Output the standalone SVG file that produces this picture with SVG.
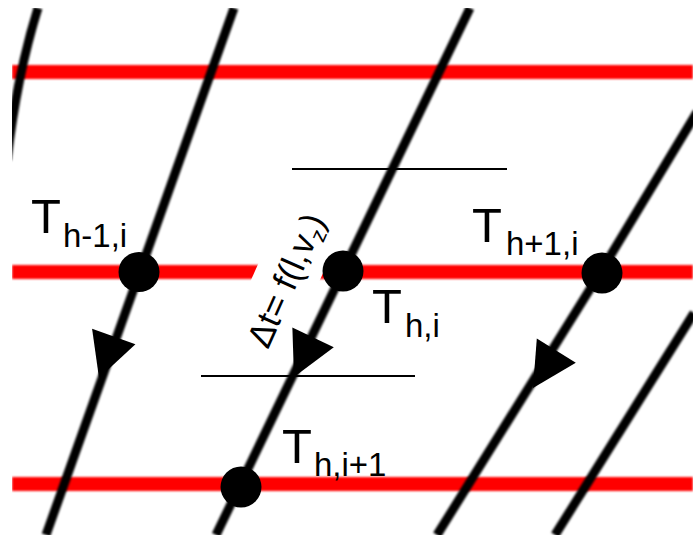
<svg xmlns="http://www.w3.org/2000/svg" width="693" height="535" viewBox="0 0 693 535">
  <style>
    .red { stroke: #ff0000; stroke-width: 14; fill: none; }
    .blk { stroke: #000; stroke-width: 9; fill: none; stroke-linecap: butt; }
    .thin { stroke: #000; stroke-width: 1.8; }
    .dot { fill: #000; }
    .lbl { font-family: "Liberation Sans", Arial, sans-serif; fill: #000; }
    .big { font-size: 49px; }
    .sub { font-size: 33px; }
  </style>
  <defs>
    <clipPath id="frame"><rect x="12" y="8" width="681" height="527"/></clipPath>
    <filter id="soft" x="-10%" y="-10%" width="120%" height="120%"><feGaussianBlur stdDeviation="1.3"/></filter>
    <filter id="soft2" x="-10%" y="-10%" width="120%" height="120%"><feGaussianBlur stdDeviation="1"/></filter>
    <path id="ah" d="M0,0 L-44,-23 L-44,23 Z" fill="#000"/>
  </defs>
  <rect width="693" height="535" fill="#fff"/>

  <g id="gridlines" clip-path="url(#frame)" filter="url(#soft)">
    <line class="red" x1="12" y1="72" x2="693" y2="72"/>
    <line class="red" x1="12" y1="272" x2="693" y2="272"/>
    <line class="red" x1="12" y1="484" x2="693" y2="484"/>
  </g>

  <g id="dt-label">
    <g transform="translate(268,350) rotate(-66)">
      <rect x="-8" y="-44" width="160" height="63" fill="#fff"/>
      <text class="lbl" x="0" y="0" font-size="35">Δt= f(l,v<tspan font-size="22" dy="7">z</tspan><tspan dy="-7">)</tspan></text>
    </g>
  </g>

  <g id="connectors">
    <g clip-path="url(#frame)" filter="url(#soft2)">
      <path class="blk" d="M38,8 Q17,75 7,160"/>
      <line class="blk" x1="234" y1="8" x2="46" y2="535"/>
      <line class="blk" x1="470" y1="8" x2="216" y2="535"/>
      <path class="blk" d="M697,112 L600,273 L437,535"/>
      <line class="blk" x1="694" y1="313" x2="555" y2="535"/>
    </g>
    <line class="thin" x1="292" y1="169" x2="507" y2="169"/>
    <line class="thin" x1="201" y1="376" x2="415" y2="376"/>
    <use href="#ah" transform="translate(99,378) rotate(109.6)"/>
    <use href="#ah" transform="translate(294,377) rotate(115.7)"/>
    <use href="#ah" transform="translate(533,388) rotate(122)"/>
  </g>

  <g id="node-h-1-i">
    <ellipse class="dot" cx="139" cy="272" rx="20.5" ry="20"/>
    <text class="lbl"><tspan class="big" x="31" y="233">T</tspan><tspan class="sub" x="63" y="247">h-1,i</tspan></text>
  </g>
  <g id="node-h-i">
    <ellipse class="dot" cx="343" cy="271" rx="20.5" ry="20.5"/>
    <text class="lbl"><tspan class="big" x="372" y="323">T</tspan><tspan class="sub" x="405" y="337">h,i</tspan></text>
  </g>
  <g id="node-h+1-i">
    <ellipse class="dot" cx="602" cy="273" rx="20.5" ry="20.5"/>
    <text class="lbl"><tspan class="big" x="472" y="242">T</tspan><tspan class="sub" x="506" y="255">h+1,i</tspan></text>
  </g>
  <g id="node-h-i+1">
    <ellipse class="dot" cx="241" cy="487" rx="20.5" ry="20.5"/>
    <text class="lbl"><tspan class="big" x="282" y="463">T</tspan><tspan class="sub" x="314" y="476">h,i+1</tspan></text>
  </g>
</svg>
